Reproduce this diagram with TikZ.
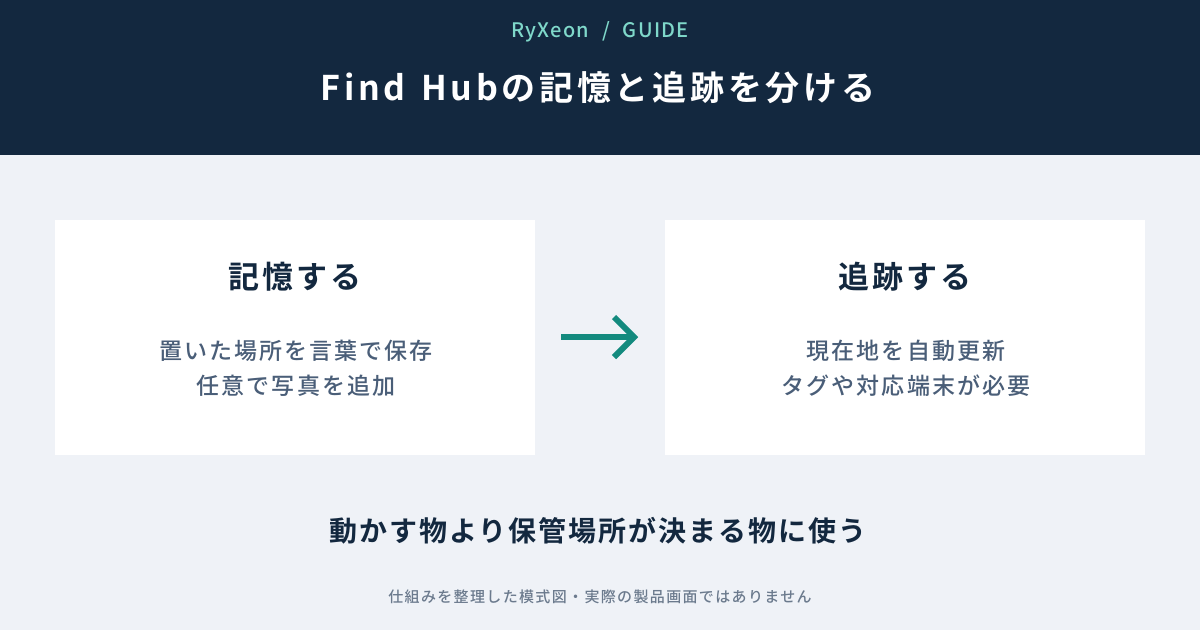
\documentclass[tikz,border=0pt]{standalone}
\usepackage{fontspec}
\usetikzlibrary{calc}
\setmainfont{Noto Sans CJK JP}
\newfontfamily\cjk{Noto Sans CJK JP}
\newfontfamily\cjkb{Noto Sans CJK JP Bold}
\newfontfamily\cjkm{Noto Sans CJK JP Medium}
\definecolor{navy}{HTML}{13283F}
\definecolor{bgc}{HTML}{EFF2F7}
\definecolor{mint}{HTML}{7FD8CA}
\definecolor{slate}{HTML}{4A5E78}
\definecolor{teal}{HTML}{138A7E}
\definecolor{foot}{HTML}{6B7A8D}
\tikzset{
  card/.style={fill=white, draw=none},
  boxtitle/.style={text=navy, font={\cjkb\addfontfeature{LetterSpace=10}\fontsize{31}{36}\selectfont}},
  boxline/.style={text=slate, font={\cjkm\addfontfeature{LetterSpace=9}\fontsize{23}{28}\selectfont}, align=center},
}
\begin{document}
\begin{tikzpicture}[x=1pt,y=-1pt]
\useasboundingbox (0,0) rectangle (1200,630);
\fill[bgc] (0,0) rectangle (1200,630);
\fill[navy] (0,0) rectangle (1200,155);
\node[text=mint, font={\cjkm\addfontfeature{LetterSpace=6}\fontsize{20}{24}\selectfont}] (brand) at (600,32) {RyXeon\hspace{13pt}/\hspace{13pt}GUIDE};
\node[text=white, font={\cjkb\addfontfeature{LetterSpace=11}\fontsize{34}{40}\selectfont}] (title) at (598,88) {Find\hspace{4pt} Hubの記憶と追跡を分ける};
\node[card, minimum width=480, minimum height=235, anchor=north west] (left) at (55,220) {};
\node[card, minimum width=480, minimum height=235, anchor=north west] (right) at (665,220) {};
\node[boxtitle] (lt) at (295,277) {記憶する};
\node[boxtitle] (rt) at (905,277) {追跡する};
\node[boxline] (l1) at (296,351) {置いた場所を言葉で保存};
\node[boxline] (l2) at (296,386) {任意で写真を追加};
\node[boxline] (r1) at (906,351) {現在地を自動更新};
\node[boxline] (r2) at (906,386) {タグや対応端末が必要};
\coordinate (as) at (561,337);
\coordinate (ae) at (634,337);
\draw[teal, line width=6] (as) -- (ae);
\draw[teal, line width=6, line join=miter] ($(ae)+(-20,-20)$) -- (ae) -- ($(ae)+(-20,20)$);
\node[text=navy, font={\cjkb\addfontfeature{LetterSpace=7}\fontsize{28}{33}\selectfont}] (msg) at (598,531) {動かす物より保管場所が決まる物に使う};
\node[text=foot, font={\cjkm\addfontfeature{LetterSpace=9}\fontsize{15}{18}\selectfont}] (note) at (600,597) {仕組みを整理した模式図・実際の製品画面ではありません};
\end{tikzpicture}
\end{document}
